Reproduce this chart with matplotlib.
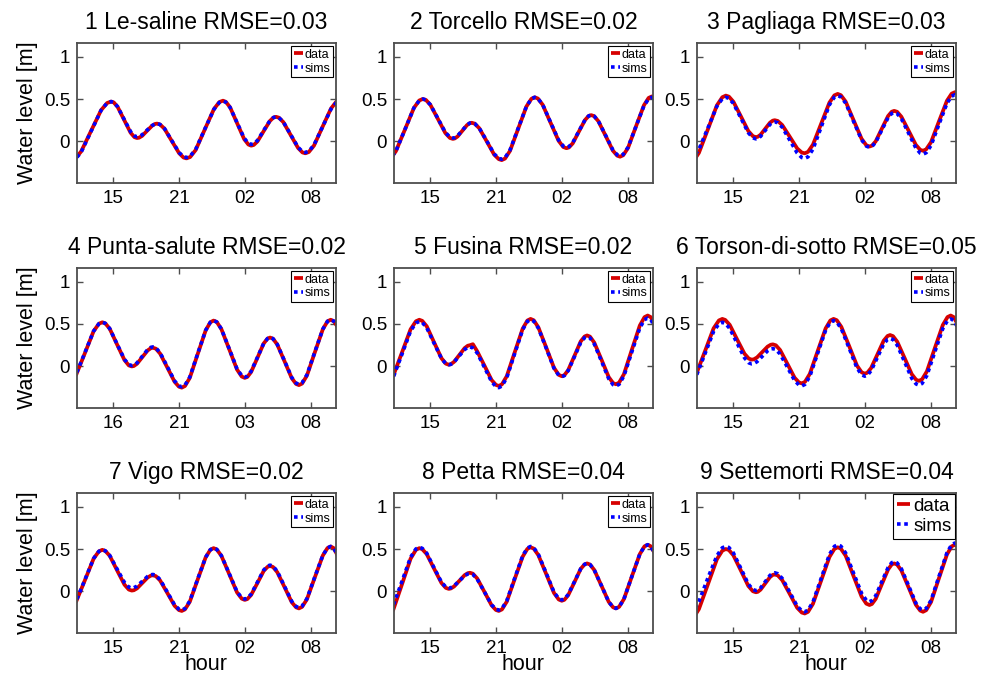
import matplotlib
matplotlib.use("Agg")
import matplotlib.pyplot as plt

plt.rcParams['font.family'] = ['Liberation Sans', 'DejaVu Sans']

# station names and errors
stations = ['Le-saline', 'Torcello', 'Pagliaga', 'Punta-salute', 'Fusina',
            'Torson-di-sotto', 'Vigo', 'Petta', 'Settemorti']
rmse = [0.03, 0.02, 0.03, 0.02, 0.02, 0.05, 0.02, 0.04, 0.04]

tick_hours = [3.06, 8.66, 14.27, 19.88]
tick_labels = [['15', '21', '02', '08']] * 3 + [['16', '21', '03', '08']] + [['15', '21', '02', '08']] * 5

# time axes (hours from start of record)
tA = [-0.5, -0.16, 0.35, 1.2, 2.05, 2.56, 2.9, 3.12, 3.45, 4.0, 4.55, 4.88, 5.1,
      5.27, 5.53, 5.95, 6.38, 6.63, 6.8, 7.05, 7.43, 8.05, 8.68, 9.05, 9.3,
      9.61, 10.08, 10.85, 11.63, 12.09, 12.4, 12.64, 13.0, 13.6, 14.2, 14.56, 14.8,
      15.01, 15.33, 15.85, 16.38, 16.69, 16.9, 17.15, 17.53, 18.15, 18.78, 19.15, 19.4,
      19.69, 20.13, 20.85, 21.58, 22.01, 22.3]
tB = [-0.6, -0.3, 0.16, 0.93, 1.69, 2.15, 2.45, 2.71, 3.09, 3.73, 4.36, 4.75, 5.0,
      5.16, 5.4, 5.8, 6.2, 6.44, 6.6, 6.86, 7.24, 7.88, 8.51, 8.9, 9.15,
      9.43, 9.85, 10.55, 11.25, 11.67, 11.95, 12.22, 12.63, 13.3, 13.98, 14.38, 14.65,
      14.86, 15.18, 15.7, 16.23, 16.54, 16.75, 17.0, 17.36, 17.98, 18.59, 18.96, 19.2,
      19.47, 19.88, 20.55, 21.23, 21.63, 21.9, 22.15, 22.53]
tC = [-0.8, -0.51, -0.06, 0.68, 1.41, 1.86, 2.15, 2.4, 2.78, 3.4, 4.03, 4.4, 4.65,
      4.83, 5.1, 5.55, 6.0, 6.27, 6.45, 6.7, 7.06, 7.68, 8.29, 8.66, 8.9,
      9.17, 9.58, 10.25, 10.93, 11.33, 11.6, 11.87, 12.26, 12.93, 13.59, 13.99, 14.25,
      14.47, 14.79, 15.33, 15.86, 16.19, 16.4, 16.65, 17.01, 17.63, 18.24, 18.61, 18.85,
      19.12, 19.53, 20.2, 20.88, 21.28, 21.55, 21.81, 22.19]

data1 = [-0.22, -0.203, -0.119, 0.125, 0.369, 0.453, 0.47, 0.460, 0.407, 0.255, 0.103, 0.050, 0.04,
         0.044, 0.065, 0.125, 0.185, 0.206, 0.21, 0.200, 0.150, 0.005, -0.140, -0.190, -0.20,
         -0.184, -0.101, 0.140, 0.381, 0.464, 0.48, 0.467, 0.403, 0.215, 0.027, -0.037, -0.05,
         -0.042, 0.000, 0.120, 0.240, 0.282, 0.29, 0.280, 0.227, 0.075, -0.077, -0.130, -0.14,
         -0.125, -0.049, 0.170, 0.389, 0.465, 0.48]
sims1 = [-0.23, -0.213, -0.128, 0.120, 0.368, 0.453, 0.47, 0.460, 0.409, 0.262, 0.116, 0.065, 0.055,
         0.059, 0.078, 0.133, 0.187, 0.206, 0.21, 0.200, 0.152, 0.010, -0.132, -0.180, -0.19,
         -0.174, -0.093, 0.143, 0.378, 0.459, 0.475, 0.463, 0.401, 0.220, 0.039, -0.023, -0.035,
         -0.027, 0.012, 0.128, 0.243, 0.282, 0.29, 0.280, 0.229, 0.080, -0.069, -0.120, -0.13,
         -0.116, -0.042, 0.170, 0.382, 0.456, 0.47]

data2 = [-0.22, -0.203, -0.115, 0.14, 0.395, 0.483, 0.50, 0.489, 0.431, 0.265, 0.099, 0.041, 0.03,
         0.035, 0.058, 0.125, 0.192, 0.215, 0.22, 0.209, 0.156, 0.0, -0.156, -0.209, -0.22,
         -0.202, -0.112, 0.15, 0.412, 0.502, 0.52, 0.506, 0.432, 0.22, 0.008, -0.066, -0.08,
         -0.071, -0.023, 0.115, 0.253, 0.301, 0.31, 0.298, 0.238, 0.065, -0.108, -0.168, -0.18,
         -0.163, -0.076, 0.175, 0.426, 0.513, 0.53, 0.516, 0.445]
sims2 = [-0.22, -0.203, -0.115, 0.14, 0.395, 0.483, 0.50, 0.489, 0.433, 0.27, 0.107, 0.051, 0.04,
         0.044, 0.066, 0.13, 0.194, 0.216, 0.22, 0.21, 0.157, 0.005, -0.147, -0.20, -0.21,
         -0.192, -0.103, 0.155, 0.413, 0.502, 0.52, 0.506, 0.434, 0.225, 0.016, -0.056, -0.07,
         -0.061, -0.015, 0.12, 0.255, 0.301, 0.31, 0.298, 0.24, 0.07, -0.10, -0.158, -0.17,
         -0.153, -0.069, 0.175, 0.419, 0.503, 0.52, 0.506, 0.437]

data3 = [-0.25, -0.231, -0.135, 0.145, 0.425, 0.521, 0.54, 0.528, 0.468, 0.295, 0.122, 0.062, 0.05,
         0.055, 0.079, 0.15, 0.221, 0.245, 0.25, 0.241, 0.193, 0.055, -0.083, -0.131, -0.14,
         -0.123, -0.038, 0.21, 0.458, 0.543, 0.56, 0.545, 0.469, 0.25, 0.031, -0.045, -0.06,
         -0.05, 0.001, 0.15, 0.299, 0.35, 0.36, 0.349, 0.291, 0.125, -0.041, -0.099, -0.11,
         -0.093, -0.009, 0.235, 0.479, 0.563, 0.58, 0.566, 0.495]
sims3 = [-0.2, -0.183, -0.095, 0.16, 0.415, 0.503, 0.52, 0.508, 0.448, 0.275, 0.102, 0.042, 0.03,
         0.035, 0.059, 0.13, 0.201, 0.225, 0.23, 0.22, 0.167, 0.015, -0.137, -0.19, -0.20,
         -0.182, -0.092, 0.17, 0.432, 0.522, 0.54, 0.525, 0.451, 0.235, 0.019, -0.055, -0.07,
         -0.06, -0.01, 0.135, 0.28, 0.33, 0.34, 0.328, 0.268, 0.095, -0.078, -0.138, -0.15,
         -0.133, -0.048, 0.2, 0.448, 0.533, 0.55, 0.537, 0.47]

data4 = [-0.2, -0.183, -0.095, 0.16, 0.415, 0.503, 0.52, 0.508, 0.444, 0.26, 0.076, 0.012, 0.0,
         0.005, 0.032, 0.11, 0.188, 0.215, 0.22, 0.209, 0.151, -0.015, -0.181, -0.239, -0.25,
         -0.231, -0.135, 0.145, 0.425, 0.521, 0.54, 0.524, 0.441, 0.203, -0.036, -0.119, -0.135,
         -0.124, -0.066, 0.103, 0.271, 0.329, 0.34, 0.327, 0.258, 0.06, -0.138, -0.207, -0.22,
         -0.202, -0.108, 0.165, 0.438, 0.532, 0.55, 0.534, 0.455]
sims4 = [-0.19, -0.173, -0.086, 0.165, 0.416, 0.503, 0.52, 0.508, 0.446, 0.265, 0.084, 0.022, 0.01,
         0.015, 0.042, 0.12, 0.198, 0.225, 0.23, 0.219, 0.161, -0.005, -0.171, -0.229, -0.24,
         -0.221, -0.126, 0.15, 0.426, 0.521, 0.54, 0.524, 0.443, 0.208, -0.028, -0.109, -0.125,
         -0.114, -0.057, 0.108, 0.272, 0.329, 0.34, 0.327, 0.26, 0.065, -0.13, -0.197, -0.21,
         -0.192, -0.099, 0.17, 0.439, 0.532, 0.55, 0.534, 0.455]

data5 = [-0.22, -0.202, -0.108, 0.165, 0.438, 0.532, 0.55, 0.537, 0.473, 0.285, 0.097, 0.033, 0.02,
         0.026, 0.054, 0.135, 0.216, 0.244, 0.25, 0.262, 0.18, 0.01, -0.16, -0.218, -0.23,
         -0.211, -0.115, 0.165, 0.445, 0.541, 0.56, 0.544, 0.461, 0.223, -0.016, -0.099, -0.115,
         -0.103, -0.045, 0.125, 0.295, 0.353, 0.365, 0.351, 0.281, 0.078, -0.126, -0.196, -0.21,
         -0.191, -0.092, 0.195, 0.482, 0.581, 0.60, 0.581, 0.483]
sims5 = [-0.24, -0.222, -0.128, 0.145, 0.418, 0.512, 0.53, 0.518, 0.456, 0.275, 0.094, 0.032, 0.02,
         0.025, 0.051, 0.125, 0.199, 0.225, 0.23, 0.218, 0.16, -0.01, -0.18, -0.238, -0.25,
         -0.231, -0.133, 0.15, 0.433, 0.531, 0.55, 0.534, 0.452, 0.215, -0.022, -0.104, -0.12,
         -0.109, -0.051, 0.115, 0.281, 0.339, 0.35, 0.336, 0.265, 0.06, -0.145, -0.216, -0.23,
         -0.211, -0.113, 0.17, 0.453, 0.551, 0.57, 0.552, 0.458]

data6 = [-0.2, -0.182, -0.089, 0.18, 0.449, 0.542, 0.56, 0.548, 0.49, 0.32, 0.15, 0.092, 0.08,
         0.084, 0.106, 0.17, 0.234, 0.256, 0.26, 0.249, 0.193, 0.03, -0.133, -0.189, -0.20,
         -0.182, -0.089, 0.18, 0.449, 0.542, 0.56, 0.545, 0.466, 0.238, 0.009, -0.07, -0.085,
         -0.074, -0.019, 0.143, 0.304, 0.359, 0.37, 0.357, 0.291, 0.1, -0.091, -0.157, -0.17,
         -0.152, -0.058, 0.215, 0.488, 0.582, 0.60, 0.581, 0.483]
sims6 = [-0.22, -0.202, -0.112, 0.15, 0.412, 0.502, 0.52, 0.508, 0.448, 0.275, 0.102, 0.042, 0.03,
         0.034, 0.056, 0.12, 0.184, 0.206, 0.21, 0.199, 0.146, -0.01, -0.166, -0.219, -0.23,
         -0.212, -0.118, 0.155, 0.428, 0.522, 0.54, 0.524, 0.444, 0.213, -0.019, -0.099, -0.115,
         -0.104, -0.05, 0.108, 0.265, 0.319, 0.33, 0.317, 0.25, 0.055, -0.14, -0.207, -0.22,
         -0.201, -0.106, 0.17, 0.446, 0.541, 0.56, 0.542, 0.449]

data7 = [-0.22, -0.203, -0.116, 0.135, 0.386, 0.473, 0.49, 0.478, 0.42, 0.25, 0.08, 0.022, 0.01,
         0.014, 0.036, 0.1, 0.164, 0.186, 0.19, 0.18, 0.129, -0.02, -0.169, -0.22, -0.23,
         -0.212, -0.122, 0.14, 0.402, 0.492, 0.51, 0.495, 0.421, 0.205, -0.011, -0.085, -0.10,
         -0.09, -0.042, 0.1, 0.242, 0.29, 0.30, 0.288, 0.227, 0.05, -0.127, -0.188, -0.20,
         -0.182, -0.093, 0.165, 0.423, 0.512, 0.53, 0.51, 0.409]
sims7 = [-0.21, -0.193, -0.108, 0.14, 0.388, 0.473, 0.49, 0.479, 0.424, 0.265, 0.106, 0.051, 0.04,
         0.044, 0.063, 0.12, 0.177, 0.196, 0.20, 0.19, 0.139, -0.01, -0.159, -0.21, -0.22,
         -0.202, -0.113, 0.145, 0.403, 0.492, 0.51, 0.496, 0.422, 0.21, -0.002, -0.076, -0.09,
         -0.08, -0.032, 0.11, 0.252, 0.30, 0.31, 0.298, 0.237, 0.06, -0.117, -0.178, -0.19,
         -0.173, -0.085, 0.17, 0.425, 0.513, 0.53, 0.51, 0.409]

data8 = [-0.34, -0.32, -0.216, 0.085, 0.386, 0.49, 0.51, 0.498, 0.44, 0.27, 0.10, 0.042, 0.03,
         0.035, 0.058, 0.125, 0.192, 0.215, 0.22, 0.209, 0.154, -0.005, -0.164, -0.219, -0.23,
         -0.212, -0.12, 0.145, 0.41, 0.502, 0.52, 0.505, 0.428, 0.205, -0.018, -0.095, -0.11,
         -0.099, -0.046, 0.11, 0.266, 0.319, 0.33, 0.317, 0.253, 0.065, -0.123, -0.187, -0.20,
         -0.182, -0.09, 0.175, 0.44, 0.532, 0.55, 0.532, 0.44]
sims8 = [-0.28, -0.261, -0.163, 0.12, 0.403, 0.501, 0.52, 0.508, 0.45, 0.28, 0.11, 0.052, 0.04,
         0.044, 0.065, 0.125, 0.185, 0.206, 0.21, 0.20, 0.147, -0.005, -0.157, -0.21, -0.22,
         -0.202, -0.11, 0.155, 0.42, 0.512, 0.53, 0.515, 0.438, 0.215, -0.008, -0.085, -0.10,
         -0.09, -0.037, 0.115, 0.267, 0.32, 0.33, 0.317, 0.253, 0.065, -0.123, -0.187, -0.20,
         -0.182, -0.09, 0.175, 0.44, 0.532, 0.55, 0.532, 0.44]

data9 = [-0.33, -0.31, -0.209, 0.085, 0.379, 0.48, 0.50, 0.488, 0.426, 0.245, 0.064, 0.002, -0.01,
         -0.005, 0.021, 0.095, 0.169, 0.195, 0.20, 0.189, 0.133, -0.03, -0.193, -0.249, -0.26,
         -0.241, -0.146, 0.13, 0.406, 0.501, 0.52, 0.504, 0.421, 0.18, -0.061, -0.144, -0.16,
         -0.148, -0.088, 0.085, 0.258, 0.318, 0.33, 0.316, 0.247, 0.045, -0.157, -0.226, -0.24,
         -0.221, -0.125, 0.155, 0.435, 0.531, 0.55, 0.536, 0.462]
sims9 = [-0.25, -0.23, -0.12, 0.16, 0.42, 0.515, 0.53, 0.518, 0.454, 0.27, 0.086, 0.022, 0.01,
         0.015, 0.041, 0.115, 0.189, 0.215, 0.22, 0.209, 0.153, -0.01, -0.173, -0.229, -0.24,
         -0.221, -0.125, 0.155, 0.435, 0.531, 0.55, 0.534, 0.452, 0.215, -0.022, -0.104, -0.12,
         -0.109, -0.051, 0.115, 0.281, 0.339, 0.35, 0.336, 0.267, 0.065, -0.137, -0.206, -0.22,
         -0.201, -0.105, 0.175, 0.455, 0.551, 0.57, 0.554, 0.472]

obs = [(tA, data1), (tB, data2), (tB, data3), (tC, data4), (tC, data5),
       (tC, data6), (tC, data7), (tC, data8), (tB, data9)]
mod = [(tA, sims1), (tB, sims2), (tB, sims3), (tC, sims4), (tC, sims5),
       (tC, sims6), (tC, sims7), (tC, sims8), (tB, sims9)]

fig = plt.figure(figsize=(9.87, 6.78), dpi=100)
W, H = 987.0, 678.0
lefts = [77, 394, 697]
tops = [43, 268, 493]

for i in range(9):
    r, c = divmod(i, 3)
    ax = fig.add_axes([lefts[c] / W, 1 - (tops[r] + 140) / H, 259 / W, 140 / H])
    ax.plot(obs[i][0], obs[i][1], color='#d60000', lw=2.7, label='data',
            solid_capstyle='butt')
    ax.plot(mod[i][0], mod[i][1], color='#0000ff', lw=2.6, ls=(0, (1, 1)), label='sims')
    ax.set_xlim(0, 22)
    ax.set_ylim(-0.49, 1.16)
    ax.set_yticks([0, 0.5, 1])
    ax.set_yticklabels(['0', '0.5', '1'])
    ax.set_xticks(tick_hours)
    ax.set_xticklabels(tick_labels[i])
    ax.tick_params(direction='in', top=True, right=True, length=4, width=1,
                   labelsize=13.5, pad=5, color='0.3')
    for s in ax.spines.values():
        s.set_color('0.3')
        s.set_linewidth(1.3)
    ax.set_title('%d %s RMSE=%.2f' % (i + 1, stations[i], rmse[i]), fontsize=16.5, pad=10)
    if c == 0:
        ax.set_ylabel('Water level [m]', fontsize=15.5, labelpad=4)
    if r == 2:
        ax.set_xlabel('hour', fontsize=15.5, labelpad=-2)
    fs = 13.5 if i == 8 else 9
    leg = ax.legend(loc='upper right', fontsize=fs, handlelength=0.7, handletextpad=0.15,
                    borderpad=0.2, labelspacing=0.15, borderaxespad=0.25 if i < 8 else 0.05,
                    fancybox=False, framealpha=1)
    leg.get_frame().set_edgecolor('black')
    leg.get_frame().set_linewidth(0.8)

fig.savefig('out.png', dpi=100)
